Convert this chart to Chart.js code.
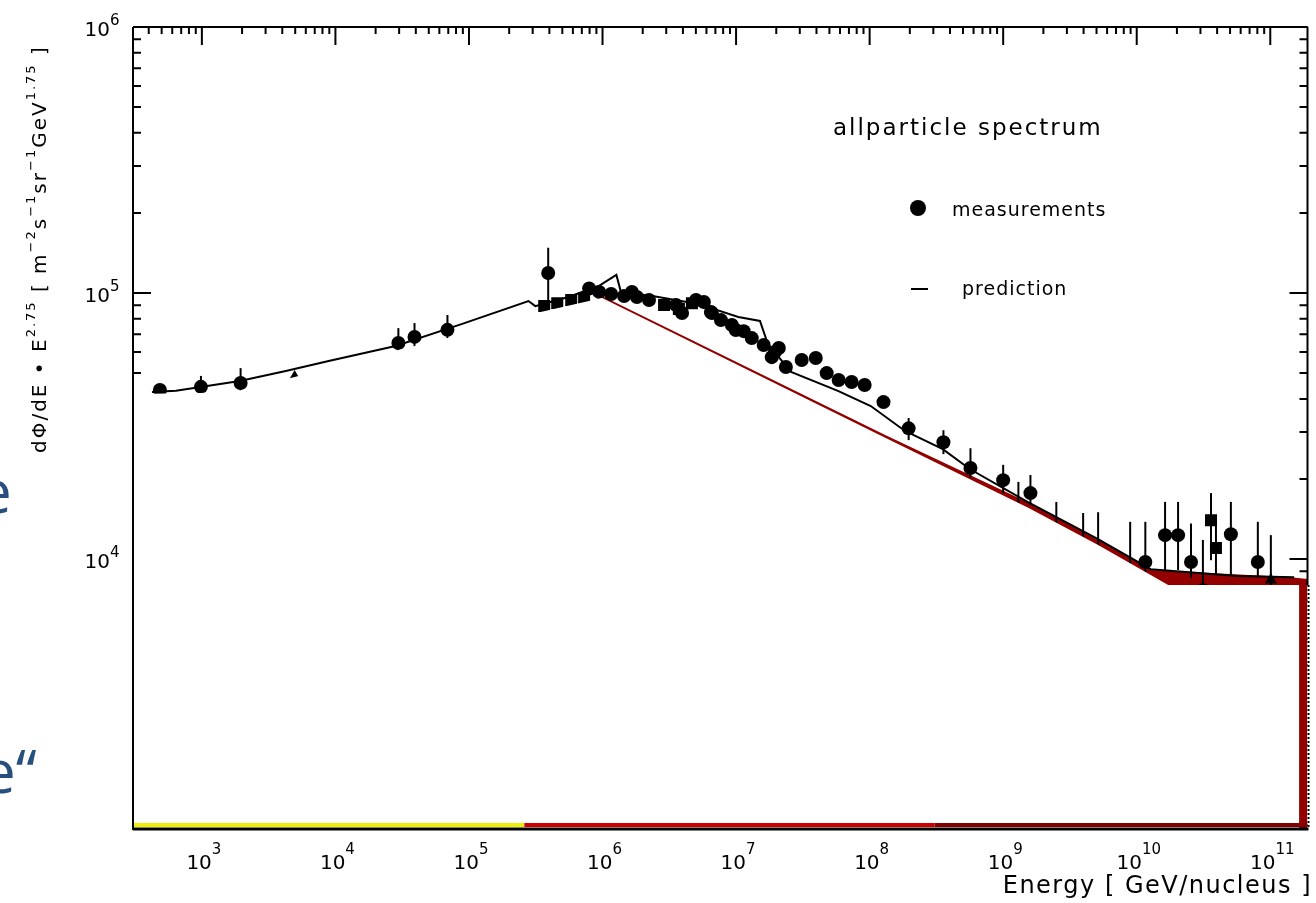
<!DOCTYPE html>
<html>
<head>
<meta charset="utf-8">
<script src="https://cdn.jsdelivr.net/npm/chart.js@4.4.1/dist/chart.umd.min.js"></script>
<style>
  html, body { margin: 0; padding: 0; background: #fff; }
  #wrap { position: relative; width: 1316px; height: 903px; overflow: hidden; }
  #grafico { position: absolute; left: 0; top: 0; }
  .slide { position: absolute; font-family: "Open Sans", sans-serif; font-size: 60px; line-height: 60px; color: #27507f; white-space: nowrap; }
</style>
</head>
<body>
<div id="wrap">
  <canvas id="grafico" width="1316" height="903"></canvas>
  <div class="slide" style="left:-22px; top:460px;">e</div>
  <div class="slide" style="left:-18px; top:740px;">e“</div>
</div>
<script>
// eixo x: energia [GeV/nucleus], eixo y: fluxo * E^2.75
const xMin = 305;
const xMax = 1.9e11;
const yMin = 975;
const yMax = 1e6;

// labels dos ticks (expoentes)
const xTickExps = [3, 4, 5, 6, 7, 8, 9, 10, 11];
const yTickExps = [4, 5, 6];

// measurements (circulos)
const measE = [485, 984, 1950, 29600, 39100, 69000, 3.92e5, 7.94e5, 9.44e5, 1.16e6, 1.45e6, 1.66e6, 1.81e6, 2.23e6,
  3.55e6, 3.94e6, 5.01e6, 5.74e6, 6.48e6, 6.59e6, 7.70e6, 9.30e6, 9.96e6, 1.14e7, 1.31e7, 1.61e7, 1.85e7, 1.95e7,
  2.09e7, 2.36e7, 3.10e7, 3.95e7, 4.77e7,
  5.86e7, 7.33e7, 9.18e7, 1.27e8, 1.96e8, 3.57e8, 5.69e8, 1.00e9, 1.30e9, 1.60e9, 2.50e9, 3.97e9,
  5.14e9, 8.93e9, 1.16e10, 1.63e10, 2.04e10, 2.55e10, 3.13e10, 5.07e10, 8.07e10];
const measF = [43200, 44400, 45900, 64900, 68400, 72700, 119000, 104000, 101000, 99100, 97500, 101000, 96600, 94100,
  90200, 84100, 94200, 92500, 84800, 84100, 79100, 75800, 72600, 71900, 67700, 63800, 57400, 60000,
  62100, 52700, 56000, 57000, 50000,
  47100, 46300, 45100, 38900, 31000, 27500, 22000, 19800, 14500, 17700, 12200, 11000,
  10300, 8930, 9750, 12300, 12300, 9750, 7640, 12400, 9750];
const measLo = [null, 41400, 41400, 60000, 62700, 64900, 90200, null, null, null, null, null, null, null,
  null, null, null, null, null, null, null, null, null, null, null, null, null, null,
  null, null, null, null, null,
  null, null, null, null, 28000, 24800, 20200, 17700, 10700, 16000, 9100, 8100,
  7800, 7100, 8340, 9100, 9100, 8500, 6000, 8710, 8550];
const measHi = [null, 48800, 52200, 73800, 77100, 82700, 148000, null, null, null, null, null, null, null,
  null, null, null, null, null, null, null, null, null, null, null, null, null, null,
  null, null, null, null, null,
  null, null, null, null, 33900, 30500, 26100, 22600, 19500, 20700, 16400, 14900,
  15000, 13800, 13800, 16400, 16400, 13600, 11800, 16400, 13800];

// measurements (quadrados)
const sqE = [3.66e5, 4.58e5, 5.83e5, 7.28e5, 2.89e6, 3.73e6, 4.67e6, 3.60e10, 3.92e10];
const sqF = [89300, 91600, 94100, 95800, 90200, 87100, 91600, 14000, 11000];
const sqLo = [null, null, null, null, null, null, null, 9900, 8710];
const sqHi = [null, null, null, null, null, null, null, 17700, 13600];

// measurements (triangulos)
const triE = [4950, 1.01e11];
const triF = [48300, 8340];
const triLo = [null, 8000];
const triHi = [null, 12300];

// prediction
const predE = [423, 640, 1920, 4250, 8900, 28200, 87900, 2.79e5, 3.14e5, 5.55e5, 9.29e5, 1.27e6,
  1.38e6, 2.20e6, 5.20e6, 1.04e7, 1.51e7, 1.73e7, 2.58e7, 5.79e7, 1.02e8, 1.84e8, 3.53e8,
  5.62e8, 1.52e9, 5.09e9, 1.27e10, 5.66e10, 1.51e11];
const predF = [42500, 42900, 46700, 50900, 55500, 63200, 76400, 93300, 89300, 96600, 106000, 117000,
  100000, 98000, 91000, 81300, 78500, 64300, 50500, 42900, 37600, 30300, 25900,
  21800, 16400, 11900, 9160, 8630, 8550];

// area branca que cobre a parte de baixo
const whiteE = [305, 984, 1950, 4950, 9860, 29600, 69000, 1.60e5, 3.19e5, 9.93e5, 1.32e8, 1.54e9, 5.14e9, 1.72e10, 1.65e11];
const whiteF = [41700, 42100, 43100, 48300, 52700, 61100, 67800, 75200, 84100, 95700, 28500, 15600, 11300, 7980, 7980];

// area vermelha (extragalactica)
const redE = [9.93e5, 1.32e8, 1.54e9, 5.14e9, 1.28e10, 1.36e11, 1.9e11];
const redF = [97500, 29200, 16300, 11800, 9100, 8560, 8410];

// barra colorida no fundo
const bandEdges = [305, 2.6e5, 3.06e8, 1.9e11];
const bandColors = ["#f2ee00", "#cc0000", "#850000"];

const fonte = '"DejaVu Sans", sans-serif';

function pares(xs, ys) {
  return xs.map((x, i) => ({ x: x, y: ys[i] }));
}

function richText(ctx, parts, x, y, size, supSize, raise, spacing, draw) {
  let cx = x;
  for (const [t, sup] of parts) {
    ctx.font = (sup ? supSize : size) + "px " + fonte;
    ctx.letterSpacing = spacing + "px";
    if (draw) ctx.fillText(t, cx, sup ? y - raise : y);
    cx += ctx.measureText(t).width;
  }
  ctx.letterSpacing = "0px";
  return cx - x;
}

function logTicks(min, max) {
  const out = [];
  for (let e = Math.floor(Math.log10(min)); e <= Math.ceil(Math.log10(max)); e++) {
    for (let k = 1; k <= 9; k++) {
      const v = k * Math.pow(10, e);
      if (v >= min && v <= max) out.push({ v: v, major: k === 1 });
    }
  }
  return out;
}

function errorBars(ctx, chart, xs, lo, hi) {
  const sx = chart.scales.x;
  const sy = chart.scales.y;
  for (let i = 0; i < xs.length; i++) {
    if (lo[i] === null) continue;
    const px = sx.getPixelForValue(xs[i]);
    ctx.beginPath();
    ctx.moveTo(px, sy.getPixelForValue(hi[i]));
    ctx.lineTo(px, sy.getPixelForValue(lo[i]));
    ctx.stroke();
  }
}

const moldura = {
  id: "moldura",
  beforeDatasetsDraw(chart) {
    // ticks para dentro (top, esquerda, direita)
    const ctx = chart.ctx;
    const a = chart.chartArea;
    const sx = chart.scales.x;
    const sy = chart.scales.y;
    ctx.save();
    ctx.strokeStyle = "#000";
    ctx.lineWidth = 2;
    for (const t of logTicks(xMin, xMax)) {
      const px = sx.getPixelForValue(t.v);
      ctx.beginPath();
      ctx.moveTo(px, a.top);
      ctx.lineTo(px, a.top + (t.major ? 18 : 7));
      ctx.stroke();
    }
    for (const t of logTicks(yMin, yMax)) {
      const py = sy.getPixelForValue(t.v);
      const len = t.major ? 18 : 8;
      ctx.beginPath();
      ctx.moveTo(a.left, py);
      ctx.lineTo(a.left + len, py);
      ctx.moveTo(a.right, py);
      ctx.lineTo(a.right - len, py);
      ctx.stroke();
    }
    ctx.restore();
  },
  beforeDatasetDraw(chart, args) {
    if (args.meta.label !== "measurements") return;
    const ctx = chart.ctx;
    ctx.save();
    ctx.strokeStyle = "#000";
    ctx.lineWidth = 2;
    errorBars(ctx, chart, measE, measLo, measHi);
    errorBars(ctx, chart, sqE, sqLo, sqHi);
    errorBars(ctx, chart, triE, triLo, triHi);
    ctx.restore();
  },
  afterDatasetsDraw(chart) {
    const ctx = chart.ctx;
    const a = chart.chartArea;
    const sy = chart.scales.y;
    const cut = sy.getPixelForValue(7980);
    ctx.save();
    ctx.strokeStyle = "#000";
    ctx.lineWidth = 2;
    ctx.beginPath();
    ctx.moveTo(a.left, a.top);
    ctx.lineTo(a.right, a.top);
    ctx.moveTo(a.left, a.top);
    ctx.lineTo(a.left, a.bottom + 2);
    ctx.moveTo(a.right, a.top);
    ctx.lineTo(a.right, cut);
    ctx.stroke();
    ctx.lineWidth = 3;
    ctx.beginPath();
    ctx.moveTo(a.left, a.bottom + 1);
    ctx.lineTo(a.right + 1, a.bottom + 1);
    ctx.stroke();
    ctx.lineWidth = 2;
    ctx.setLineDash([2, 2]);
    ctx.beginPath();
    ctx.moveTo(a.right + 1, cut);
    ctx.lineTo(a.right + 1, a.bottom);
    ctx.stroke();
    ctx.restore();
  },
  afterDraw(chart) {
    const ctx = chart.ctx;
    const sx = chart.scales.x;
    const sy = chart.scales.y;
    ctx.save();
    ctx.fillStyle = "#000";
    ctx.textBaseline = "alphabetic";
    ctx.textAlign = "left";

    // labels do eixo x
    for (const e of xTickExps) {
      const px = sx.getPixelForValue(Math.pow(10, e));
      const parts = [["10"], [String(e), 1]];
      const w = richText(ctx, parts, 0, 0, 20, 15, 15, 0, false);
      richText(ctx, parts, px - w / 2 + 2, 869, 20, 15, 15, 0, true);
    }
    // labels do eixo y
    for (const e of yTickExps) {
      const py = sy.getPixelForValue(Math.pow(10, e));
      ctx.font = "20px " + fonte;
      const w10 = ctx.measureText("10").width;
      richText(ctx, [["10"], [String(e), 1]], 110 - w10, py + 9, 20, 15, 11, 0, true);
    }

    // titulo do eixo x
    ctx.font = "24px " + fonte;
    ctx.letterSpacing = "1.5px";
    ctx.textAlign = "right";
    ctx.fillText("Energy [ GeV/nucleus ]", 1312, 893);
    ctx.textAlign = "left";
    ctx.letterSpacing = "0px";

    // titulo do eixo y (girado)
    ctx.save();
    ctx.translate(46, 453);
    ctx.rotate(-Math.PI / 2);
    richText(ctx, [["dΦ/dE • E"], ["2.75", 1], [" [ m"], ["−2", 1], ["s"], ["−1", 1], ["sr"], ["−1", 1],
      ["GeV"], ["1.75", 1], [" ]"]], 0, 0, 20, 13, 11, 2, true);
    ctx.restore();

    // legenda
    ctx.font = "23px " + fonte;
    ctx.letterSpacing = "2px";
    ctx.fillText("allparticle spectrum", 833, 135);
    ctx.font = "19px " + fonte;
    ctx.letterSpacing = "1px";
    ctx.fillText("measurements", 952, 216);
    ctx.fillText("prediction", 962, 295);
    ctx.letterSpacing = "0px";
    ctx.beginPath();
    ctx.arc(918, 208, 8, 0, Math.PI * 2);
    ctx.fill();
    ctx.lineWidth = 2;
    ctx.beginPath();
    ctx.moveTo(911, 289);
    ctx.lineTo(928, 289);
    ctx.stroke();
    ctx.restore();
  }
};

const bandSets = bandColors.map((c, i) => ({
  label: "band" + i,
  data: [{ x: bandEdges[i], y: 1000 }, { x: bandEdges[i + 1], y: 1000 }],
  showLine: true,
  borderColor: c,
  borderWidth: 4,
  borderCapStyle: "butt",
  pointRadius: 0,
  order: 3 - i
}));

const ctx = document.getElementById("grafico").getContext("2d");
const grafico = new Chart(ctx, {
  type: "scatter",
  data: {
    datasets: [
      {
        label: "red",
        data: pares(redE, redF),
        showLine: true,
        fill: "start",
        backgroundColor: "#920000",
        borderWidth: 0,
        pointRadius: 0,
        order: 10
      },
      {
        label: "prediction",
        data: pares(predE, predF),
        showLine: true,
        borderColor: "#000",
        borderWidth: 2,
        pointRadius: 0,
        tension: 0,
        order: 9
      },
      {
        label: "measurements",
        data: pares(measE, measF),
        pointStyle: "circle",
        pointRadius: 7,
        backgroundColor: "#000",
        borderColor: "#000",
        borderWidth: 0,
        order: 8
      },
      {
        label: "squares",
        data: pares(sqE, sqF),
        pointStyle: "rect",
        pointRadius: 8.5,
        backgroundColor: "#000",
        borderColor: "#000",
        borderWidth: 0,
        order: 7
      },
      {
        label: "triangles",
        data: pares(triE, triF),
        pointStyle: "triangle",
        pointRadius: 7,
        backgroundColor: "#000",
        borderColor: "#000",
        borderWidth: 0,
        order: 6
      },
      {
        label: "white",
        data: pares(whiteE, whiteF),
        showLine: true,
        fill: "start",
        backgroundColor: "#fff",
        borderWidth: 0,
        pointRadius: 0,
        order: 5
      },
      ...bandSets
    ]
  },
  options: {
    responsive: false,
    animation: false,
    events: [],
    layout: {
      padding: { left: 133, top: 27, right: 6, bottom: 75 }
    },
    plugins: {
      legend: { display: false },
      tooltip: { enabled: false }
    },
    scales: {
      x: { type: "logarithmic", min: xMin, max: xMax, display: false },
      y: { type: "logarithmic", min: yMin, max: yMax, display: false }
    }
  },
  plugins: [moldura]
});
</script>
</body>
</html>
